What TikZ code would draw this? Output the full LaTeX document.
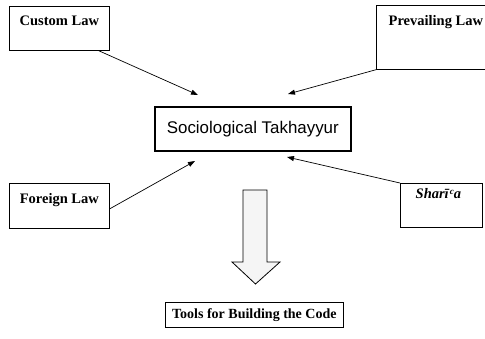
\documentclass[tikz,border=0pt]{standalone}
\usepackage{fontspec}
\setmainfont{Liberation Serif}
\newfontfamily\sansfam{Liberation Sans}
\usetikzlibrary{arrows.meta,calc}
\tikzset{
  lawbox/.style={draw, line width=0.7pt, inner sep=0pt, align=center,
    font=\fontsize{14.5}{17}\selectfont\bfseries, anchor=north west},
  centrebox/.style={draw, line width=1.6pt, inner sep=0pt,
    minimum width=196pt, minimum height=44pt,
    font=\sansfam\fontsize{16.9}{19}\selectfont, anchor=north west},
  feed/.style={line width=0.7pt, -{Triangle[length=7pt,width=5pt]}},
  bigarrow/.style={draw, line width=0.8pt, fill=black!4, line join=miter}
}
\begin{document}
\begin{tikzpicture}[x=1pt, y=-1pt]
  \useasboundingbox (0,0) rectangle (485,338);
  \clip (0,0) rectangle (485,338);

  % source boxes
  \node[lawbox, minimum width=100pt, text height=19pt, text depth=25pt]
    (custom) at (9,6) {Custom Law};
  \node[lawbox, minimum width=119pt, text height=20pt, text depth=44pt]
    (prevailing) at (376,5) {Prevailing Law};
  \node[lawbox, minimum width=100pt, text height=20pt, text depth=25pt]
    (foreign) at (9,183) {Foreign Law};
  \node[lawbox, minimum width=82pt, text height=15pt, text depth=29pt]
    (sharia) at (400,183)
    {\itshape Shar\={\i}\kern1pt\raisebox{0.55ex}{\fontsize{9}{9}\selectfont c}a\kern6pt};

  % centre
  \node[centrebox] (takhayyur) at (154,106) {Sociological Takhayyur};

  % result
  \node[lawbox, minimum width=178pt, minimum height=25pt, font=\fontsize{14}{16}\selectfont\bfseries]
    (tools) at (165,302) {Tools for Building the Code};

  % arrow tips near the centre box
  \coordinate (tipA) at (198,95);
  \coordinate (tipB) at (288,94);
  \coordinate (tipC) at (195,161);
  \coordinate (tipD) at (287,157);

  \draw[feed] ([xshift=-11pt]custom.south east) -- (tipA);
  \draw[feed] (prevailing.south west) -- (tipB);
  \draw[feed] ([yshift=-3pt]foreign.east) -- (tipC);
  \draw[feed] (sharia.north west) -- (tipD);

  % hollow downward arrow
  \draw[bigarrow] (243,190) -- (267,190) -- (267,262) -- (280,262)
    -- (255.5,284) -- (232,262) -- (243,262) -- cycle;
\end{tikzpicture}
\end{document}
